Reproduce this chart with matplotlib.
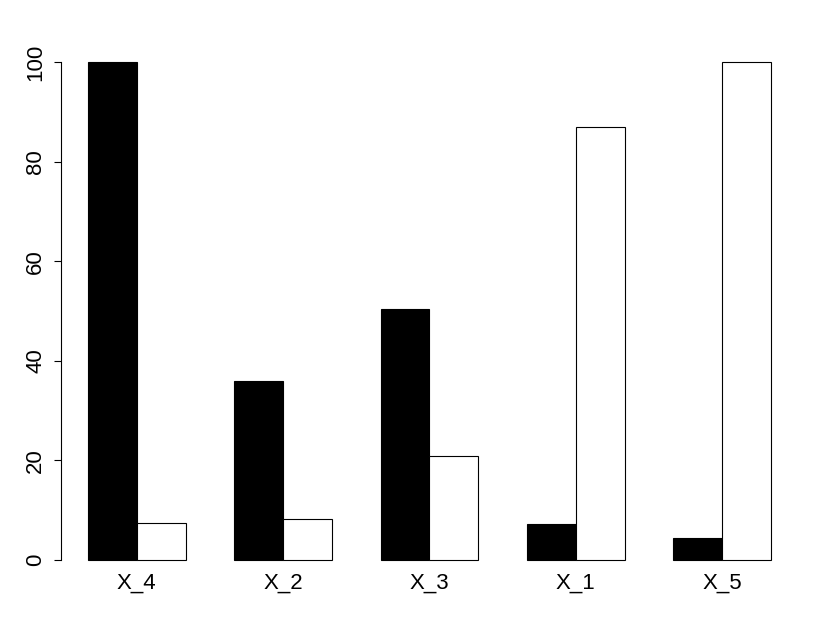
import numpy as np
import matplotlib.pyplot as plt
import matplotlib.transforms as mtrans

# group labels and the two series
groups = ['X_4', 'X_2', 'X_3', 'X_1', 'X_5']
series_a = [100.0, 35.9, 50.4, 7.2, 4.4]
series_b = [7.4, 8.2, 20.9, 86.9, 100.0]

plt.rcParams['font.family'] = ['Liberation Sans', 'DejaVu Sans']

fig = plt.figure(figsize=(8.3, 6.42), dpi=100)
ax = fig.add_axes([0.0731, 0.0966, 0.9618 - 0.0731, 0.9346 - 0.0966])

# R style beside barplot: bar width 1, one unit gap between groups
n = len(groups)
left = 1 + 3 * np.arange(n)
ax.bar(left, series_a, width=1, align='edge', color='black',
       edgecolor='black', linewidth=0.8)
ax.bar(left + 1, series_b, width=1, align='edge', color='white',
       edgecolor='black', linewidth=0.8)

ax.set_xlim(1 - 0.56, 3 * n + 0.56)
ax.set_ylim(-4, 104)

for side in ['top', 'right', 'bottom']:
    ax.spines[side].set_visible(False)
ax.spines['left'].set_bounds(0, 100)
ax.spines['left'].set_linewidth(0.8)

ax.set_yticks([0, 20, 40, 60, 80, 100])
ax.tick_params(axis='y', length=5.3, width=0.8, pad=5, labelsize=16)
for lab in ax.get_yticklabels():
    lab.set_rotation(90)
    lab.set_va('center')

# group names under each pair, baseline a little below the plot edge
ax.set_xticks([])
off = mtrans.ScaledTranslation(0, -9 / 100, fig.dpi_scale_trans)
for x, name in zip(left + 1, groups):
    ax.text(x, 0, name, transform=ax.get_xaxis_transform() + off,
            ha='center', va='baseline', fontsize=16, clip_on=False)

fig.savefig('out.png', dpi=100)
